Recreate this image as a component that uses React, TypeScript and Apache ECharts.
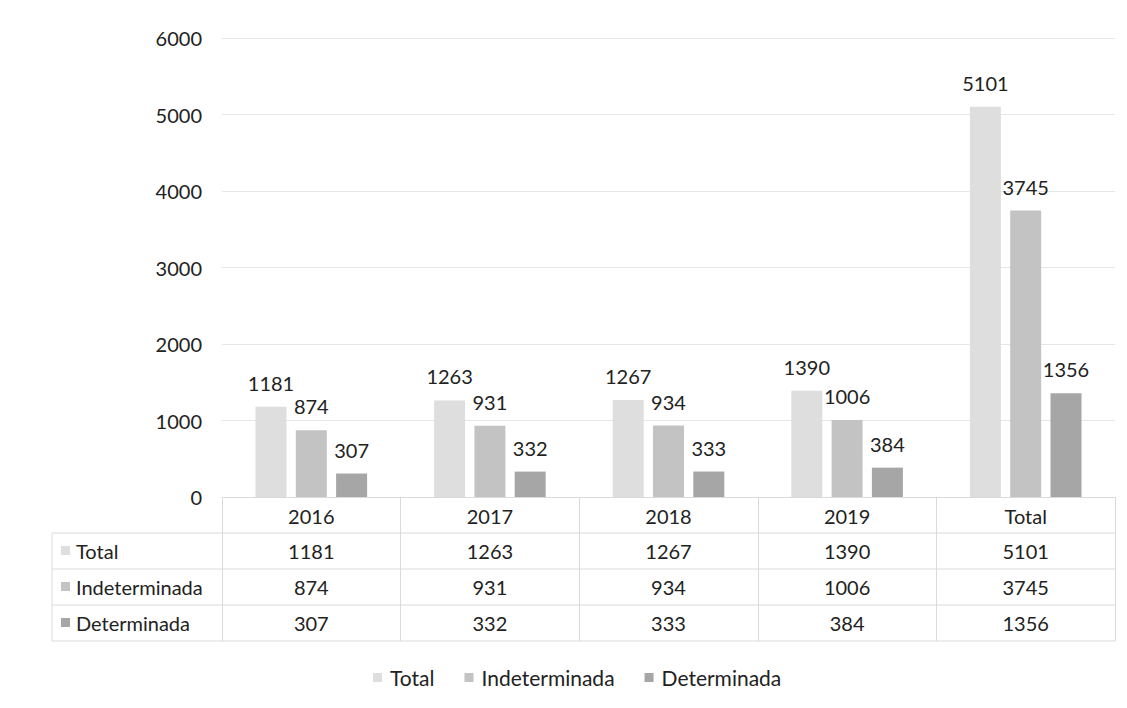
import React, { useEffect, useRef } from "react";
import * as echarts from "echarts";

const categories = ["2016", "2017", "2018", "2019", "Total"];
const seriesNames = ["Total", "Indeterminada", "Determinada"];
const totalValues = [1181, 1263, 1267, 1390, 5101];
const indeterminadaValues = [874, 931, 934, 1006, 3745];
const determinadaValues = [307, 332, 333, 384, 1356];
const yTicks = [0, 1000, 2000, 3000, 4000, 5000, 6000];

const colors = ["#dedede", "#c3c3c3", "#a6a6a6"];
const FONT = "Lato, 'Open Sans', sans-serif";
const FS = 20;

export default function App() {
  const ref = useRef<HTMLDivElement>(null);
  useEffect(() => {
    if (!ref.current) return;
    const chart = echarts.init(ref.current, null, { renderer: "svg" });
    const seriesValues = [totalValues, indeterminadaValues, determinadaValues];
    const gridLeft = 222;
    const gridRight = 12;
    const gridTop = 38;
    const gridBottom = 211;
    const axisY = 708 - gridBottom;
    const rowH = 36;
    const tableLeft = 52;
    const tableRight = 1127 - gridRight;
    const lineStyle = { stroke: "#dadada", lineWidth: 1 };

    const graphics: any[] = [];
    for (let i = 1; i <= 4; i++) {
      const y = axisY + rowH * i;
      graphics.push({
        type: "line",
        shape: { x1: tableLeft, y1: y, x2: tableRight, y2: y },
        style: lineStyle,
        silent: true,
      });
    }
    graphics.push({
      type: "line",
      shape: { x1: tableLeft, y1: axisY + rowH, x2: tableLeft, y2: axisY + rowH * 4 },
      style: lineStyle,
      silent: true,
    });
    seriesNames.forEach((name, i) => {
      const cy = axisY + rowH * (i + 1) + rowH / 2;
      graphics.push({
        type: "rect",
        shape: { x: 61, y: cy - 5, width: 9, height: 9 },
        style: { fill: colors[i] },
        silent: true,
      });
      graphics.push({
        type: "text",
        x: 76,
        y: cy,
        style: {
          text: name,
          fill: "#222",
          font: `${FS}px ${FONT}`,
          textVerticalAlign: "middle",
          verticalAlign: "middle",
        },
        silent: true,
      });
    });

    const rowAxes = seriesValues.map((vals, i) => ({
      type: "category",
      data: vals.map((v) => String(v)),
      position: "bottom",
      offset: rowH * (i + 1),
      axisLine: { show: false },
      axisTick: { show: false },
      splitLine: { show: false },
      axisLabel: { color: "#222", fontSize: FS, fontFamily: FONT, margin: 8, interval: 0 },
    }));

    chart.setOption({
      animation: false,
      backgroundColor: "#ffffff",
      textStyle: { fontFamily: FONT },
      grid: { left: gridLeft, right: gridRight, top: gridTop, bottom: gridBottom, containLabel: false },
      legend: {
        data: seriesNames,
        left: 368,
        top: 662,
        icon: "rect",
        itemWidth: 9,
        itemHeight: 9,
        itemGap: 30,
        textStyle: { color: "#222", fontSize: 21, fontFamily: FONT, padding: [0, 0, 0, 3] },
      },
      xAxis: [
        {
          type: "category",
          data: categories,
          axisLine: { lineStyle: { color: "#dadada" } },
          axisTick: { show: true, length: rowH * 4, lineStyle: { color: "#dadada" }, interval: 0 },
          axisLabel: { color: "#222", fontSize: FS, fontFamily: FONT, margin: 9, interval: 0 },
        },
        ...rowAxes,
      ],
      yAxis: {
        type: "value",
        min: yTicks[0],
        max: yTicks[yTicks.length - 1],
        interval: 1000,
        axisLine: { show: false },
        axisTick: { show: false },
        axisLabel: {
          color: "#222",
          fontSize: FS,
          fontFamily: FONT,
          margin: 20,
          formatter: (v: number) => String(v),
        },
        splitLine: { lineStyle: { color: "#e6e6e6" } },
      },
      series: seriesNames.map((name, i) => ({
        name,
        type: "bar",
        xAxisIndex: 0,
        data: seriesValues[i],
        barWidth: 31,
        barGap: "30%",
        itemStyle: { color: colors[i] },
        label: {
          show: true,
          position: "top",
          distance: 14,
          color: "#222",
          fontSize: FS,
          fontFamily: FONT,
        },
      })),
      graphic: graphics,
    });
    return () => chart.dispose();
  }, []);
  return (
    <div
      ref={ref}
      style={{ position: "fixed", left: 0, top: 0, width: 1127, height: 708, background: "#fff" }}
    />
  );
}
